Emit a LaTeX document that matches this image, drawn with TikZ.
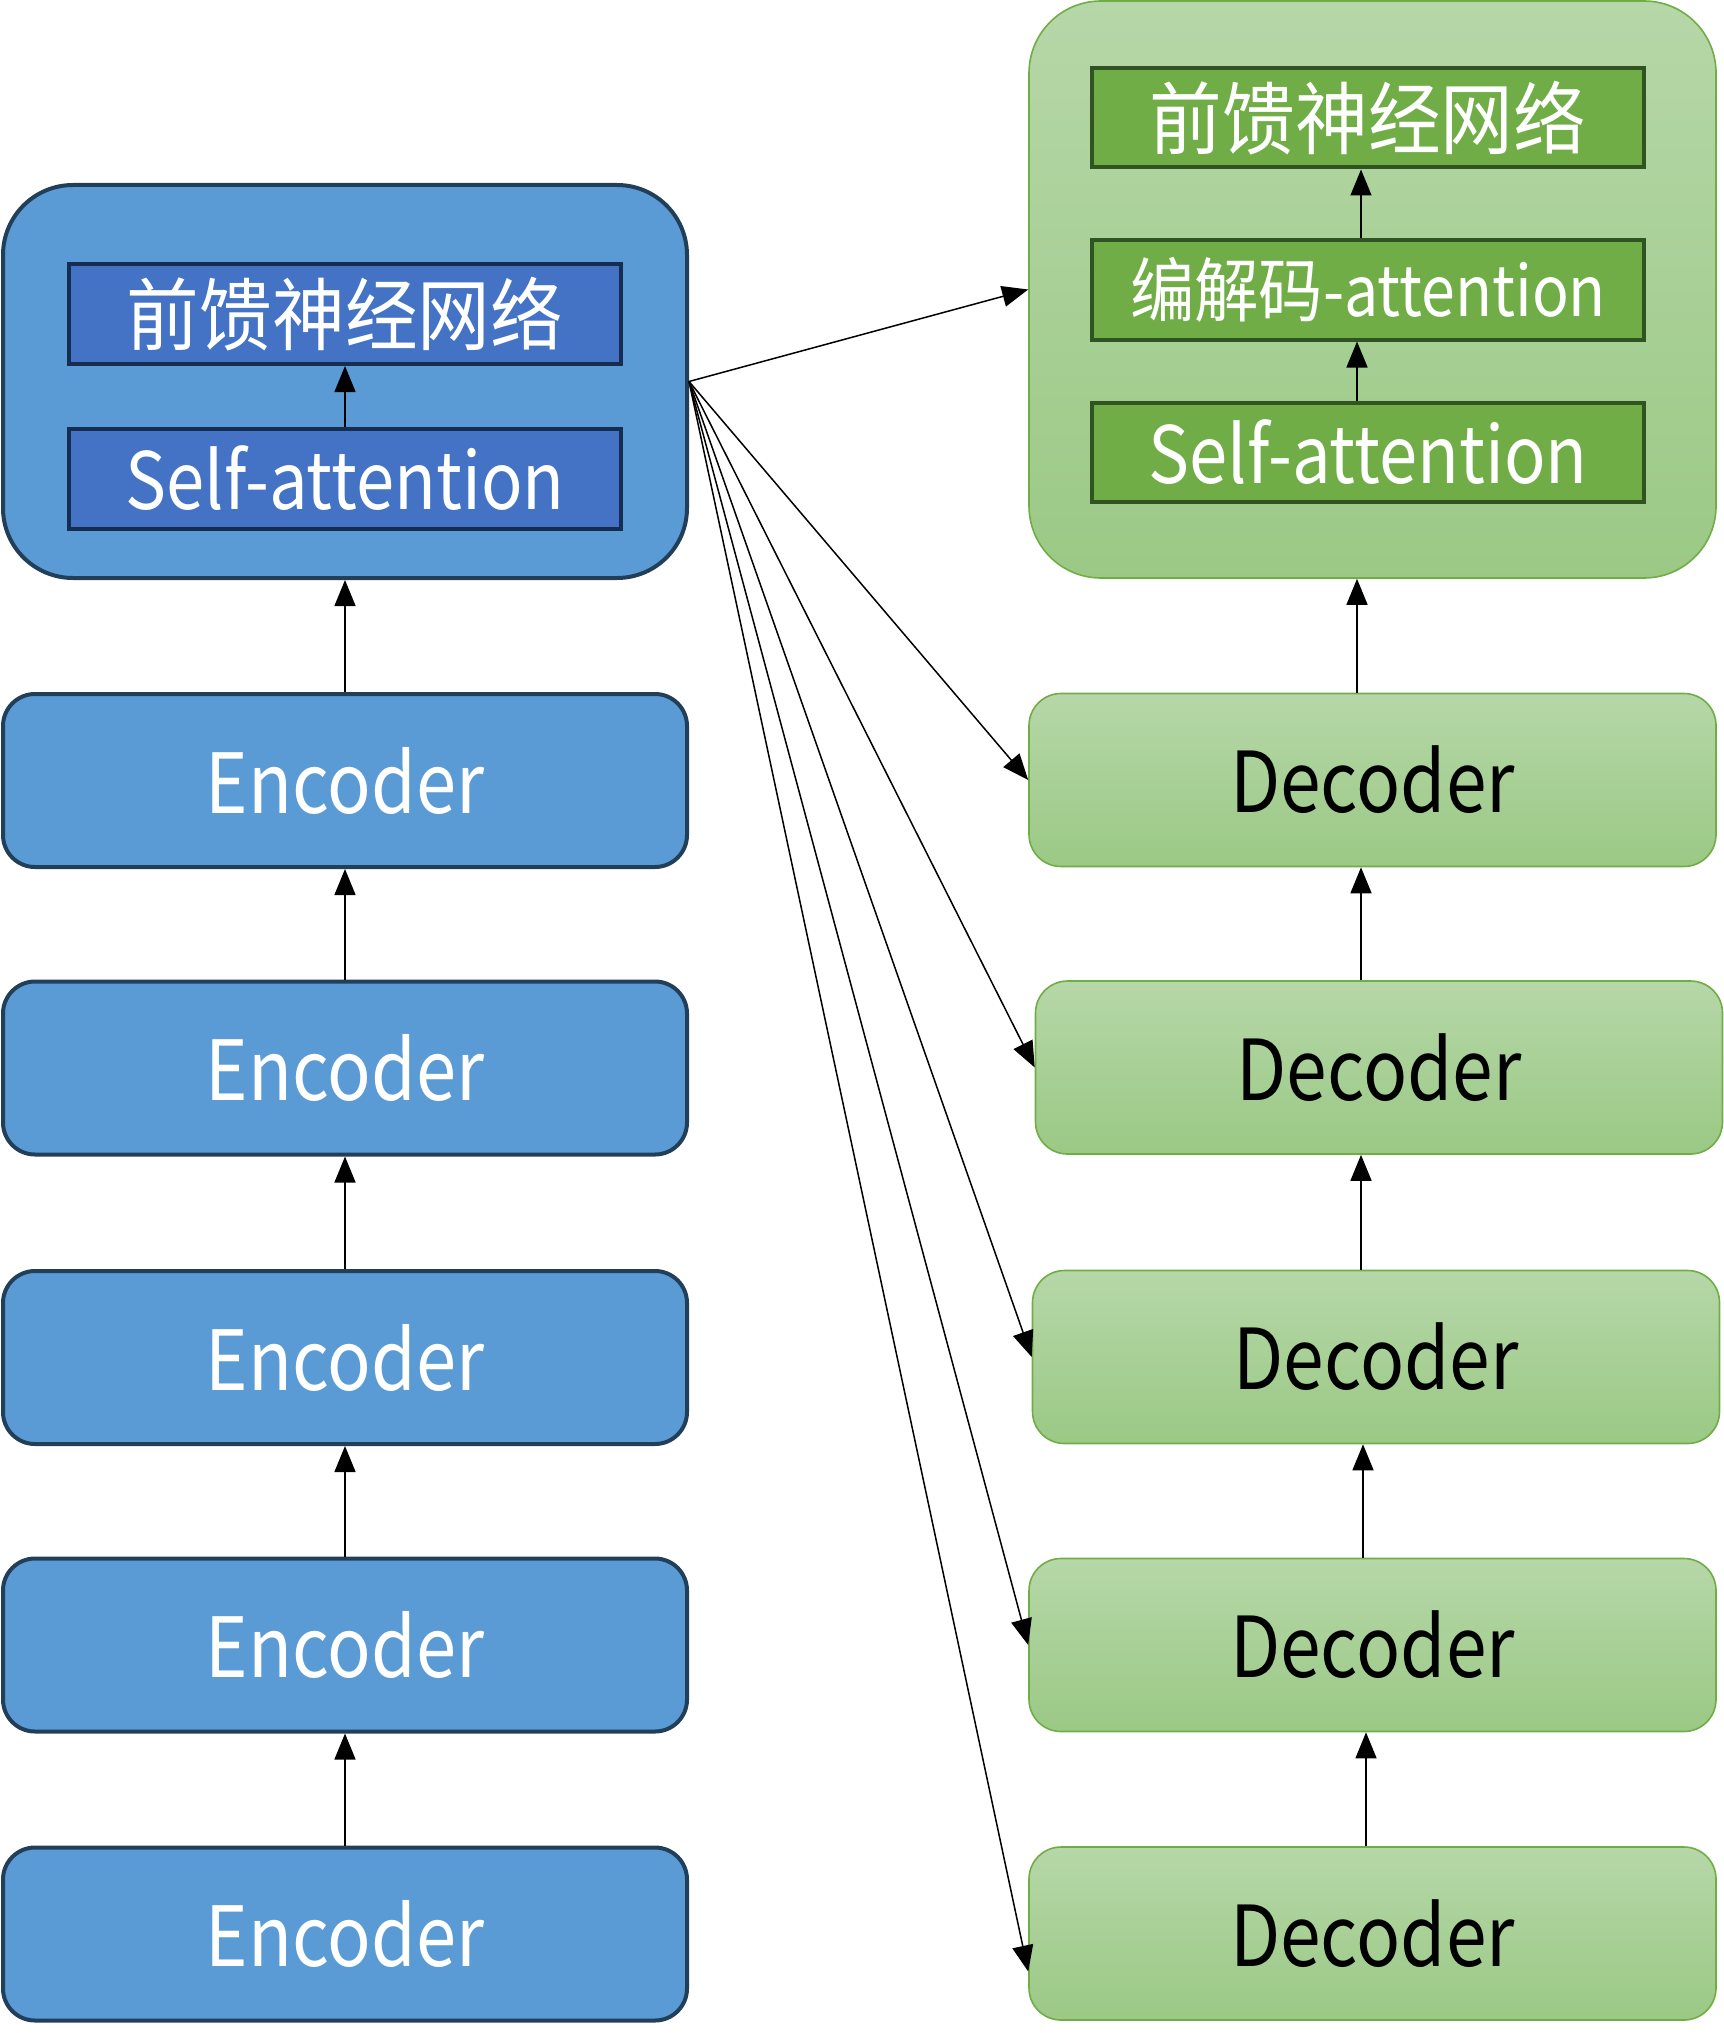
\documentclass[tikz,border=0pt]{standalone}
\usepackage{fontspec}
\setmainfont{Noto Sans CJK SC}[FakeStretch=0.87]
\newfontfamily\cjkf{Noto Sans CJK SC}[FakeStretch=0.92]
\usetikzlibrary{arrows.meta,calc}
\definecolor{encfill}{HTML}{5B9BD5}
\definecolor{encdraw}{HTML}{223F5A}
\definecolor{innfill}{HTML}{4472C4}
\definecolor{inndraw}{HTML}{172C51}
\definecolor{dectop}{HTML}{B6D7A8}
\definecolor{decbot}{HTML}{9BC985}
\definecolor{decdraw}{HTML}{70AD47}
\definecolor{gfill}{HTML}{70AD47}
\definecolor{gdraw}{HTML}{2F5321}
\tikzset{
  encgrp/.style={draw=encdraw, line width=2pt, fill=encfill, rounded corners=35pt, minimum width=342pt, minimum height=196.5pt, inner sep=0pt},
  encbox/.style={draw=encdraw, line width=2pt, fill=encfill, rounded corners=16pt, minimum width=342pt, minimum height=86.5pt, inner sep=0pt, text=white, font=\fontsize{41.5}{41.5}\selectfont},
  innbox/.style={draw=inndraw, line width=2pt, fill=innfill, minimum width=276pt, minimum height=50pt, inner sep=0pt, text=white, font=\fontsize{39.5}{39.5}\selectfont},
  decgrp/.style={draw=decdraw, line width=0.8pt, top color=dectop, bottom color=decbot, rounded corners=36pt, minimum width=343.5pt, minimum height=288.5pt, inner sep=0pt},
  gbox/.style={draw=gdraw, line width=2pt, fill=gfill, minimum width=276pt, minimum height=49.5pt, inner sep=0pt, text=white, font=\fontsize{39.5}{39.5}\selectfont},
  decbox/.style={draw=decdraw, line width=0.8pt, top color=dectop, bottom color=decbot, rounded corners=16pt, minimum width=343.5pt, minimum height=86.5pt, inner sep=0pt, text=black, font=\fontsize{42}{42}\selectfont},
  arr/.style={-{Triangle[length=13pt,width=10.5pt]}, line width=0.75pt, black},
}
\begin{document}
\begin{tikzpicture}[x=0.5pt,y=-0.5pt]
\useasboundingbox (0,0) rectangle (1723,2033);
% encoder side
\node[encgrp] (eg) at (345,381.5) {};
\node[innbox] (effn) at (345,314) {\cjkf 前馈神经网络};
\node[innbox] (esa) at (345,478.5) {Self-attention};
\node[encbox] (e1) at (345,780.5) {Encoder};
\node[encbox] (e2) at (345,1068) {Encoder};
\node[encbox] (e3) at (345,1357.5) {Encoder};
\node[encbox] (e4) at (345,1645) {Encoder};
\node[encbox] (e5) at (345,1934) {Encoder};
% decoder side
\node[decgrp] (dg) at (1372.5,289.5) {};
\node[gbox] (dffn) at (1368,118) {\cjkf 前馈神经网络};
\node[gbox, font=\fontsize{35}{35}\selectfont] (ded) at (1368,290) {{\cjkf 编解码}-attention};
\node[gbox] (dsa) at (1368,452.5) {Self-attention};
\node[decbox] (d1) at (1372.5,780) {Decoder};
\node[decbox] (d2) at (1379,1067.5) {Decoder};
\node[decbox] (d3) at (1376,1357) {Decoder};
\node[decbox] (d4) at (1372.5,1645) {Decoder};
\node[decbox] (d5) at (1372.5,1933.5) {Decoder};
% x positions of the vertical decoder arrows
\coordinate (xa) at (1357,0);
\coordinate (xb) at (1361,0);
\coordinate (xc) at (1363,0);
\coordinate (xd) at (1366,0);
% encoder arrows
\draw[arr] (esa.north) -- (effn.south);
\draw[arr] (e1.north) -- (eg.south);
\draw[arr] (e2.north) -- (e1.south);
\draw[arr] (e3.north) -- (e2.south);
\draw[arr] (e4.north) -- (e3.south);
\draw[arr] (e5.north) -- (e4.south);
% decoder arrows
\draw[arr] (dsa.north -| xa) -- (ded.south -| xa);
\draw[arr] (ded.north -| xb) -- (dffn.south -| xb);
\draw[arr] (d1.north -| xa) -- (dg.south -| xa);
\draw[arr] (d2.north -| xb) -- (d1.south -| xb);
\draw[arr] (d3.north -| xb) -- (d2.south -| xb);
\draw[arr] (d4.north -| xc) -- (d3.south -| xc);
\draw[arr] (d5.north -| xd) -- (d4.south -| xd);
% fan from encoder output
\draw[arr] (eg.east) -- (dg.west);
\draw[arr] (eg.east) -- (d1.west);
\draw[arr] (eg.east) -- (d2.west);
\draw[arr] (eg.east) -- (d3.west);
\draw[arr] (eg.east) -- (d4.west);
\draw[arr] (eg.east) -- ([yshift=-19pt]d5.west);
\end{tikzpicture}
\end{document}
